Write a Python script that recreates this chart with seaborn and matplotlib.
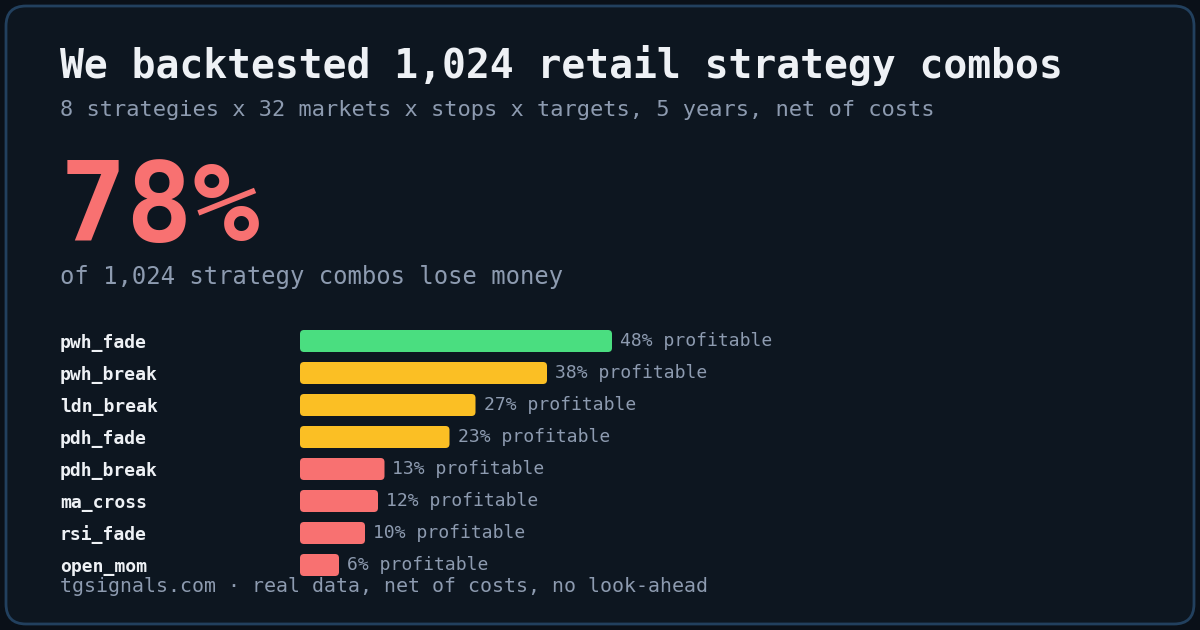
import matplotlib
matplotlib.use("Agg")
import matplotlib.pyplot as plt
from matplotlib.patches import FancyBboxPatch
import seaborn as sns
import pandas as pd

# -----------------------------------
# Data
# -----------------------------------
strategies = ["pwh_fade", "pwh_break", "ldn_break", "pdh_fade",
              "pdh_break", "ma_cross", "rsi_fade", "open_mom"]
profitable_pct = [48, 38, 27, 23, 13, 12, 10, 6]
tiers = ["good", "mid", "mid", "mid", "bad", "bad", "bad", "bad"]

title = "We backtested 1,024 retail strategy combos"
subtitle = "8 strategies x 32 markets x stops x targets, 5 years, net of costs"
headline = "78%"
headline_note = "of 1,024 strategy combos lose money"
footer = "tgsignals.com \u00b7 real data, net of costs, no look-ahead"

# -----------------------------------
# Colors
# -----------------------------------
BG_OUT = "#0a1018"
BG_CARD = "#0d1620"
BORDER = "#22405e"
WHITE = "#eef1f5"
MUTED = "#8d9bb0"
tier_colors = {"good": "#4ade80", "mid": "#fbbf24", "bad": "#f87171"}

df = pd.DataFrame({"strategy": strategies, "pct": profitable_pct, "tier": tiers})

sns.set_theme(style="white")
plt.rcParams["font.family"] = ["DejaVu Sans Mono", "DejaVu Sans"]

fig = plt.figure(figsize=(12, 6.3), dpi=100)
fig.patch.set_facecolor(BG_OUT)

# card
W, H = 1200, 630
card = FancyBboxPatch((6 / W, 6 / H), 1188 / W, 618 / H,
                      boxstyle="round,pad=0,rounding_size=%f" % (20 / W),
                      mutation_aspect=W / H, transform=fig.transFigure,
                      facecolor=BG_CARD, edgecolor=BORDER, linewidth=2, zorder=-10)
fig.patches.append(card)

# -----------------------------------
# Header texts
# -----------------------------------
def fy(px):
    return 1 - px / H

fig.text(60 / W, fy(65), title, fontsize=28.6, fontweight="bold", color=WHITE, va="center")
fig.text(60 / W, fy(110), subtitle, fontsize=15.8, color=MUTED, va="center")
fig.text(60 / W, fy(241), headline, fontsize=80, fontweight="bold", color="#f87171",
         va="baseline")
fig.text(60 / W, fy(277), headline_note, fontsize=17.2, color=MUTED, va="center")
fig.text(60 / W, fy(587), footer, fontsize=14.3, color=MUTED, va="center")

# -----------------------------------
# Bars
# -----------------------------------
PX_PER_UNIT = 6.5
ax_left, ax_right = 300, 1150
ax_top, ax_bottom = 325, 581
ax = fig.add_axes([ax_left / W, (H - ax_bottom) / H,
                   (ax_right - ax_left) / W, (ax_bottom - ax_top) / H])
ax.set_facecolor("none")
ax.set_zorder(2)

sns.barplot(data=df, x="pct", y="strategy", hue="tier", palette=tier_colors,
            dodge=False, legend=False, width=22 / 32, saturation=1, ax=ax)

ax.set_xlim(0, (ax_right - ax_left) / PX_PER_UNIT)
ax.set_ylim(len(strategies) - 0.5, -0.5)

# rounded bars
aspect = (1 / 32) / (1 / PX_PER_UNIT)
for p in list(ax.patches):
    x, y, w, h = p.get_x(), p.get_y(), p.get_width(), p.get_height()
    if w <= 0:
        continue
    rb = FancyBboxPatch((x, y), w, h,
                        boxstyle="round,pad=0,rounding_size=%f" % (4 / PX_PER_UNIT),
                        mutation_aspect=aspect, facecolor=p.get_facecolor(),
                        edgecolor="none", zorder=3)
    ax.add_patch(rb)
    p.set_visible(False)

for i, v in enumerate(profitable_pct):
    ax.text(v + 8 / PX_PER_UNIT, i, f"{v}% profitable", va="center", ha="left",
            fontsize=13, color=MUTED)

for s in ax.spines.values():
    s.set_visible(False)
ax.set_xticks([])
ax.set_xlabel("")
ax.set_ylabel("")
ax.tick_params(axis="y", length=0, pad=240 / (100 / 72))
for lab in ax.get_yticklabels():
    lab.set_horizontalalignment("left")
    lab.set_color(WHITE)
    lab.set_fontsize(13)
    lab.set_fontweight("bold")

fig.savefig("out.png", dpi=100, facecolor=fig.get_facecolor())
